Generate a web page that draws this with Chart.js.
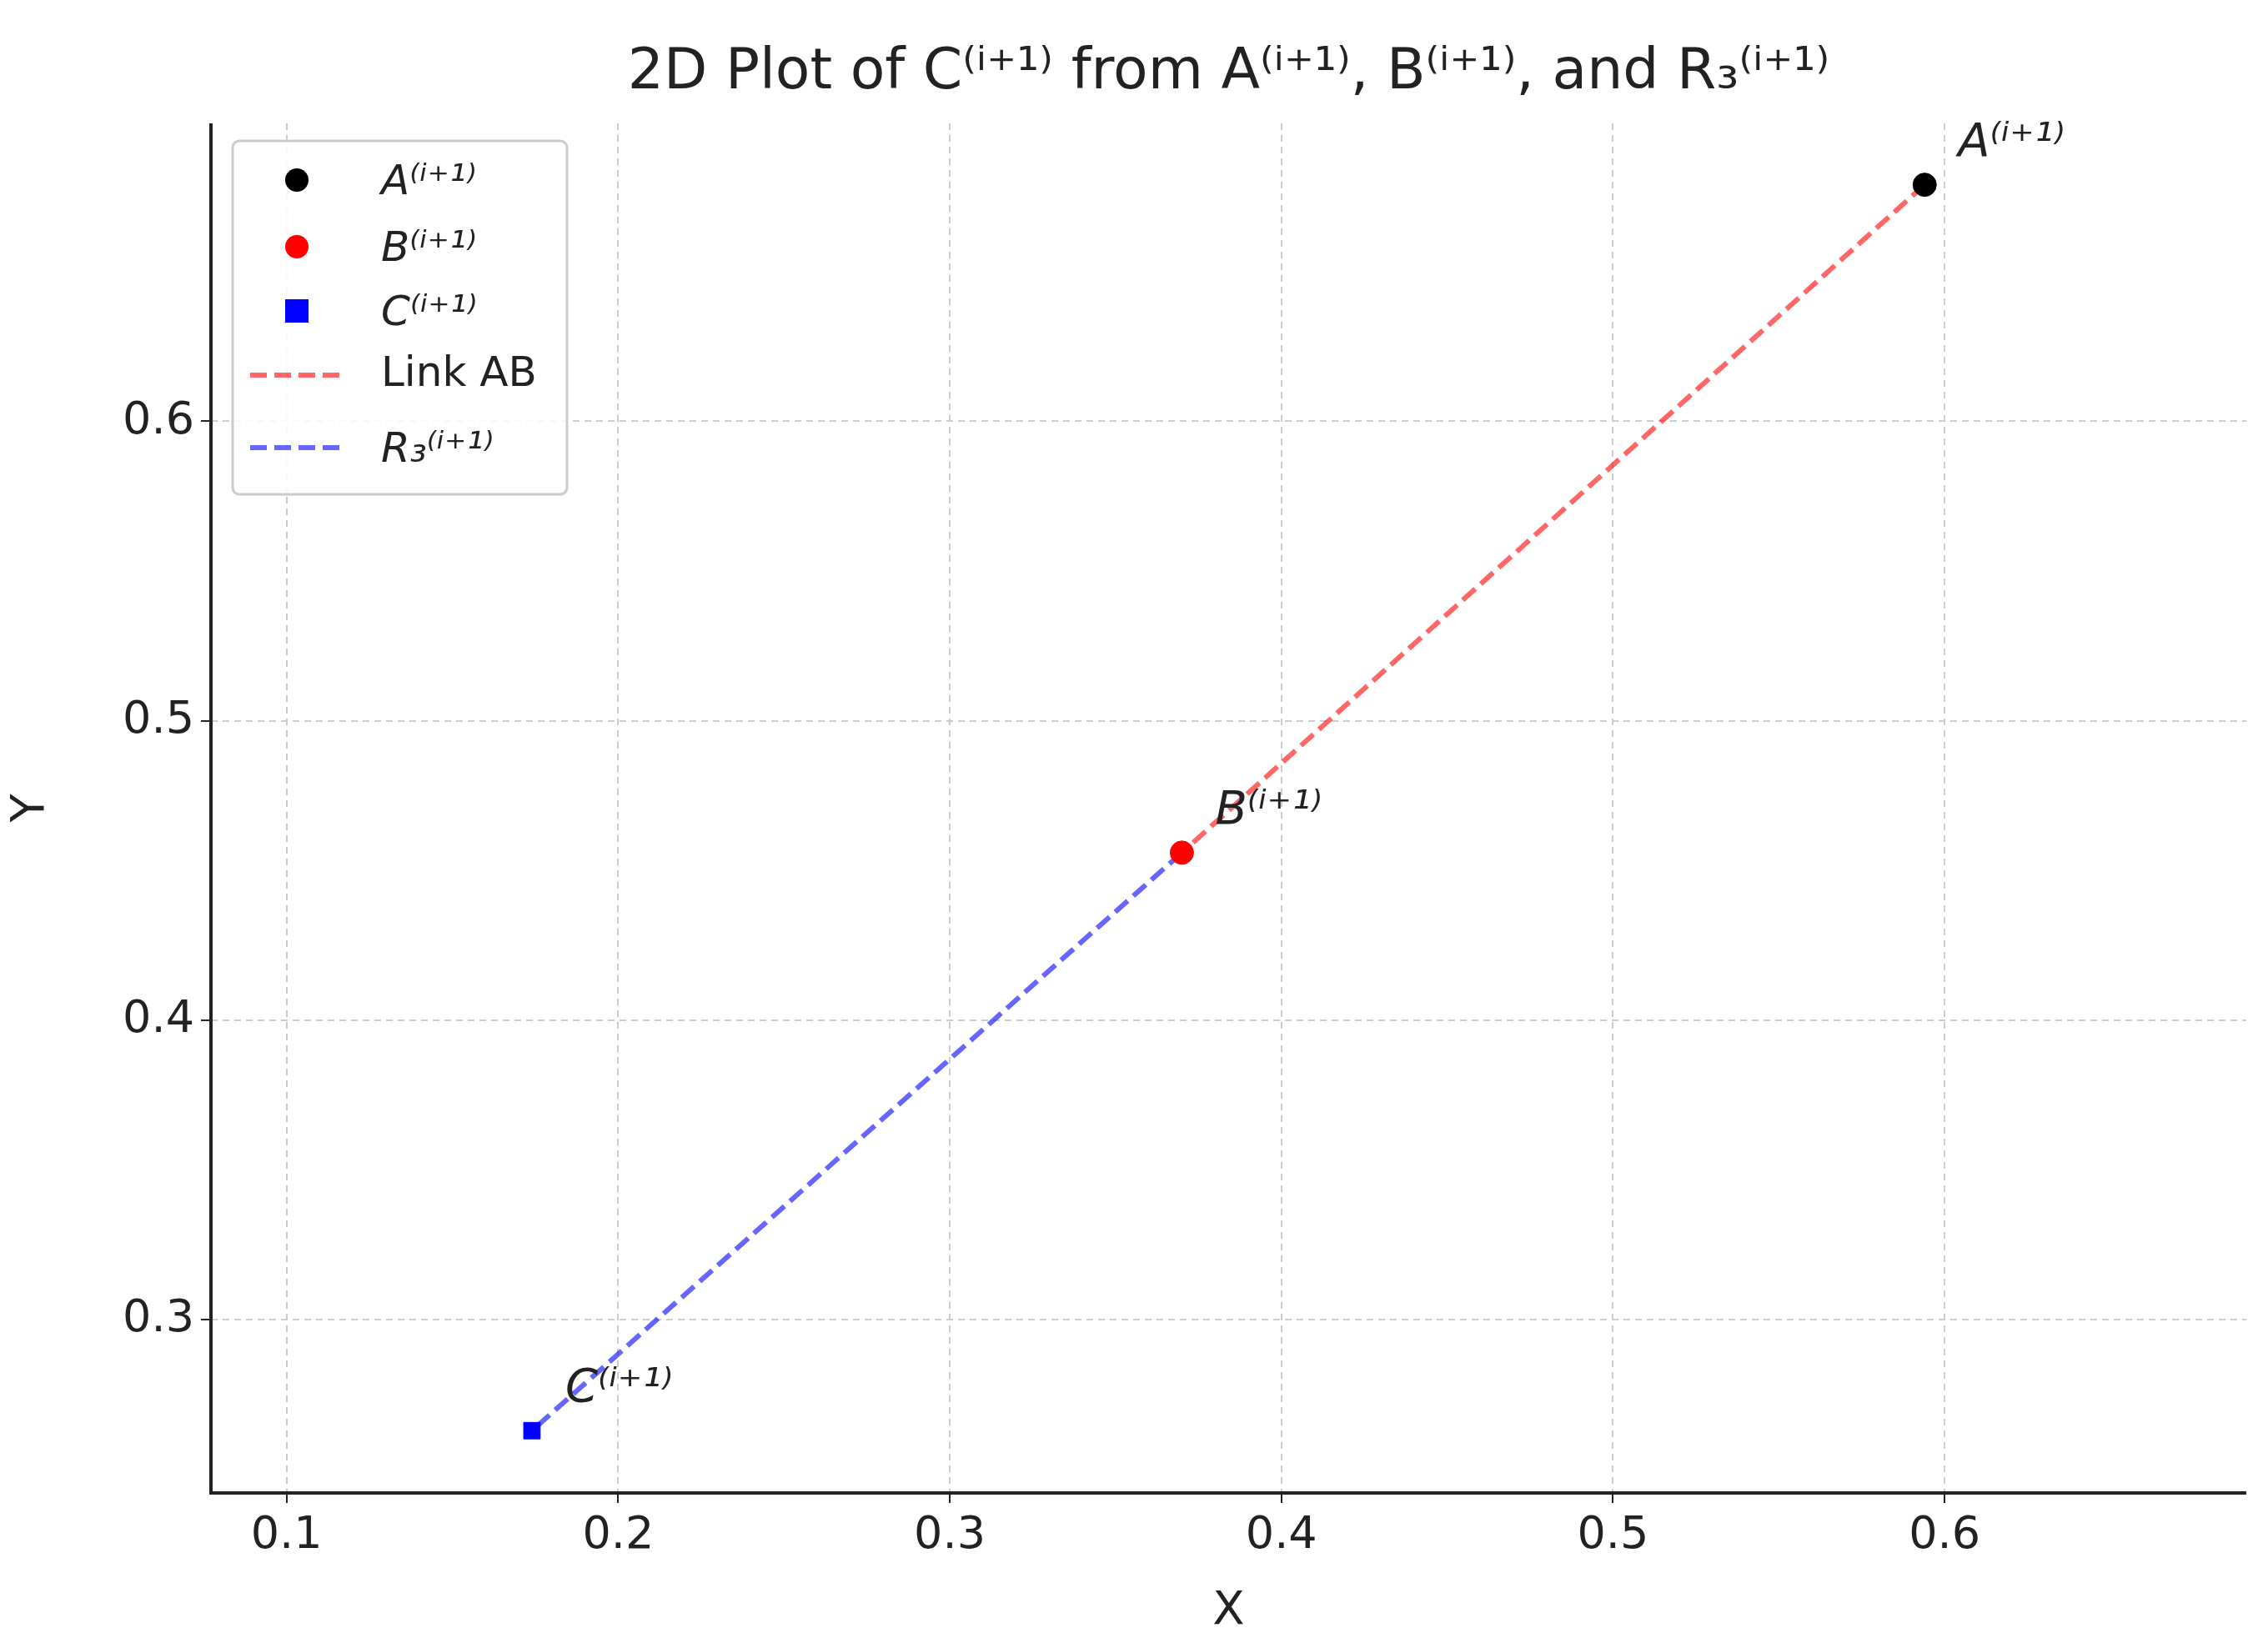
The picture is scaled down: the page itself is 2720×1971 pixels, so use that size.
<!DOCTYPE html>
<html><head><meta charset="utf-8">
<script src="https://cdn.jsdelivr.net/npm/chart.js@4.4.0/dist/chart.umd.min.js"></script>
<style>html,body{margin:0;background:#fff}#wrap{width:2720px;height:1971px}</style>
</head><body><div id="wrap"><canvas id="c"></canvas></div>
<script>
const pointNames = ["A⁽ⁱ⁺¹⁾", "B⁽ⁱ⁺¹⁾", "C⁽ⁱ⁺¹⁾"];
const pointX = [0.594, 0.370, 0.174];
const pointY = [0.679, 0.456, 0.263];
const xTicks = [0.1, 0.2, 0.3, 0.4, 0.5, 0.6];
const yTicks = [0.3, 0.4, 0.5, 0.6];
const legendLabels = ["A⁽ⁱ⁺¹⁾", "B⁽ⁱ⁺¹⁾", "C⁽ⁱ⁺¹⁾", "Link AB", "R₃⁽ⁱ⁺¹⁾"];
const FONT = "DejaVu Sans";

const pt = i => ({x: pointX[i], y: pointY[i]});
const datasets = [
  {label:"Link AB", type:"line", data:[pt(0), pt(1)], borderColor:"rgba(255,0,0,0.6)", borderWidth:6, borderDash:[20,9], pointRadius:0, order:2},
  {label:"R3", type:"line", data:[pt(1), pt(2)], borderColor:"rgba(0,0,255,0.6)", borderWidth:6, borderDash:[20,9], pointRadius:0, order:2},
  {label:"A", data:[pt(0)], backgroundColor:"#000", borderColor:"#000", pointRadius:14, pointStyle:"circle", order:1},
  {label:"B", data:[pt(1)], backgroundColor:"#f00", borderColor:"#f00", pointRadius:14, pointStyle:"circle", order:1},
  {label:"C", data:[pt(2)], backgroundColor:"#00f", borderColor:"#00f", pointRadius:14, pointStyle:"rect", order:1}
];

const deco = {
  id:"deco",
  afterDraw(chart){
    const ctx = chart.ctx, xs = chart.scales.x, ys = chart.scales.y, ca = chart.chartArea;
    ctx.save();
    ctx.fillStyle="#222"; ctx.font="68px '"+FONT+"'"; ctx.textAlign="center"; ctx.textBaseline="middle";
    ctx.fillText("2D Plot of C⁽ⁱ⁺¹⁾ from A⁽ⁱ⁺¹⁾, B⁽ⁱ⁺¹⁾, and R₃⁽ⁱ⁺¹⁾", (ca.left+ca.right)/2, 88);
    ctx.font="italic 56px '"+FONT+"'"; ctx.textAlign="left"; ctx.textBaseline="alphabetic";
    for(let i=0;i<pointNames.length;i++){
      ctx.fillText(pointNames[i], xs.getPixelForValue(pointX[i])+40, ys.getPixelForValue(pointY[i])-35);
    }
    const lx=279, ly=169, lw=401, lh=424;
    ctx.fillStyle="rgba(255,255,255,0.85)"; ctx.strokeStyle="#ccc"; ctx.lineWidth=3;
    ctx.beginPath(); ctx.roundRect(lx,ly,lw,lh,8); ctx.fill(); ctx.stroke();
    const rows=[216,296,373,450,537];
    for(let i=0;i<legendLabels.length;i++){
      const y=rows[i];
      if(i<2){ ctx.fillStyle=i==0?"#000":"#f00"; ctx.beginPath(); ctx.arc(356,y,14,0,Math.PI*2); ctx.fill(); }
      else if(i==2){ ctx.fillStyle="#00f"; ctx.fillRect(342,y-14,28,28); }
      else { ctx.strokeStyle=i==3?"rgba(255,0,0,0.6)":"rgba(0,0,255,0.6)"; ctx.lineWidth=6; ctx.setLineDash([20,9]);
        ctx.beginPath(); ctx.moveTo(300,y); ctx.lineTo(413,y); ctx.stroke(); ctx.setLineDash([]); }
      ctx.fillStyle="#222"; ctx.font=(i==3?"":"italic ")+"50px '"+FONT+"'"; ctx.textBaseline="middle";
      ctx.fillText(legendLabels[i], 457, y+(i==3?0:4));
    }
    ctx.strokeStyle="#222"; ctx.lineWidth=4; ctx.beginPath();
    ctx.moveTo(ca.left,ca.top); ctx.lineTo(ca.left,ca.bottom); ctx.lineTo(ca.right,ca.bottom); ctx.stroke();
    ctx.restore();
  }
};

new Chart(document.getElementById("c"), {
  type:"scatter",
  data:{datasets},
  plugins:[deco],
  options:{
    responsive:true, maintainAspectRatio:false, animation:false,
    layout:{padding:{top:148, right:26, left:0, bottom:0}},
    plugins:{legend:{display:false}, tooltip:{enabled:false}},
    scales:{
      x:{min:0.0772, max:0.691,
        afterBuildTicks(s){ s.ticks = xTicks.map(v=>({value:v})); },
        afterFit(s){ s.height = 1971-1791; },
        ticks:{font:{family:FONT,size:54}, color:"#222", callback:v=>v.toFixed(1), padding:8},
        grid:{color:"#ccc", lineWidth:2, tickColor:"#222", tickLength:12},
        border:{dash:[8,6], display:false},
        title:{display:true, text:"X", font:{family:FONT,size:56}, color:"#222", padding:{top:0}}
      },
      y:{min:0.2422, max:0.6995,
        afterBuildTicks(s){ s.ticks = yTicks.map(v=>({value:v})); },
        afterFit(s){ s.width = 253; },
        ticks:{font:{family:FONT,size:54}, color:"#222", callback:v=>v.toFixed(1), padding:8},
        grid:{color:"#ccc", lineWidth:2, tickColor:"#222", tickLength:12},
        border:{dash:[8,6], display:false},
        title:{display:true, text:"Y", font:{family:FONT,size:56}, color:"#222", padding:{bottom:30}}
      }
    }
  }
});
</script></body></html>
